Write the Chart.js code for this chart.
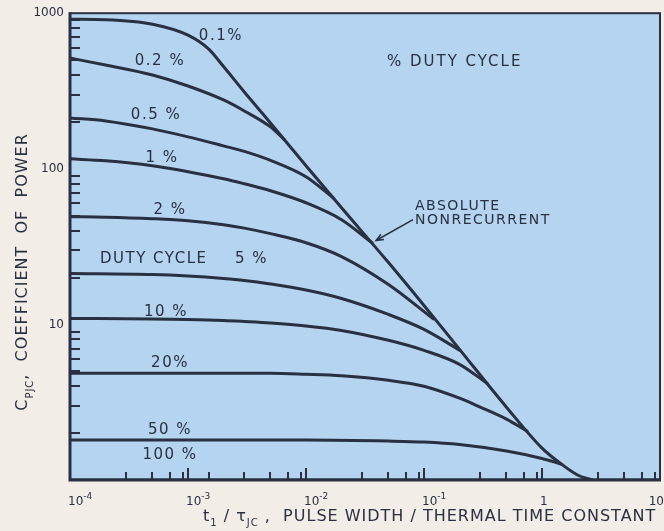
<!DOCTYPE html>
<html>
<head>
<meta charset="utf-8">
<script src="https://cdn.jsdelivr.net/npm/chart.js@4.4.1/dist/chart.umd.min.js"></script>
<style>
  html, body { margin: 0; padding: 0; background: #f2ede7; }
  #wrap { width: 664px; height: 531px; position: relative; }
</style>
</head>
<body>
<div id="wrap"><canvas id="chartCpjc"></canvas></div>
<script>
// Coefficient of power C_PJC against pulse width t1/tauJC, one curve per duty cycle
const dutyLabels = ['0.1%', '0.2 %', '0.5 %', '1 %', '2 %', '5 %', '10 %', '20%', '50 %', '100 %'];

// 0.1 % curve, which folds into the absolute nonrecurrent line
const x01 = [1e-4, 2e-4, 5e-4, 1e-3, 1.5e-3, 2e-3, 3e-3, 5e-3, 1e-2, 2e-2, 5e-2, 0.1, 0.2, 0.5, 1, 1.42, 2, 2.65];
const y01 = [915.5, 908.7, 850.2, 722.8, 587.8, 454.1, 311.6, 197.2, 104.5, 56.2, 24.97, 13.24, 6.915, 2.938, 1.604, 1.285, 1.077, 1];

const x02 = [1e-4, 2e-4, 5e-4, 1e-3, 2e-3, 3e-3, 5e-3, 6.51e-3];
const y02 = [514.6, 464.2, 400.5, 340.5, 276.9, 235.4, 185.9, 154.6];

const x05 = [1e-4, 2e-4, 5e-4, 1e-3, 2e-3, 3e-3, 5e-3, 1e-2, 1.694e-2];
const y05 = [212.3, 203.1, 180.5, 160.4, 140.4, 129.5, 113.4, 88.9, 65.2];

const x1 = [1e-4, 2e-4, 5e-4, 1e-3, 2e-3, 3e-3, 5e-3, 1e-2, 2e-2, 3.625e-2];
const y1 = [115.9, 112.5, 104.5, 95.7, 86.3, 80.1, 72.3, 60.5, 47.1, 33.5];

const x2 = [1e-4, 2e-4, 5e-4, 1e-3, 2e-3, 3e-3, 5e-3, 1e-2, 2e-2, 5e-2, 0.12];
const y2 = [49.25, 48.9, 47.8, 46.4, 43.75, 41.55, 38.3, 33.5, 27.3, 18.05, 10.85];

const x5 = [1e-4, 5e-4, 1e-3, 2e-3, 3e-3, 5e-3, 1e-2, 2e-2, 5e-2, 0.1, 0.2018];
const y5 = [21.23, 20.92, 20.46, 19.72, 19.15, 18.18, 16.64, 14.68, 11.59, 9.29, 6.81];

const x10 = [1e-4, 5e-4, 1e-3, 2e-3, 3e-3, 5e-3, 1e-2, 2e-2, 5e-2, 0.1, 0.2, 0.342];
const y10 = [10.93, 10.85, 10.77, 10.61, 10.45, 10.22, 9.78, 9.15, 7.90, 6.81, 5.54, 4.184];

const x20 = [1e-4, 1e-3, 5e-3, 1e-2, 2e-2, 5e-2, 0.1, 0.2, 0.3, 0.5, 0.746];
const y20 = [4.852, 4.852, 4.852, 4.781, 4.676, 4.375, 4.005, 3.355, 2.938, 2.46, 2.061];

const x50 = [1e-4, 1e-2, 5e-2, 0.1, 0.2, 0.5, 1, 1.477];
const y50 = [1.805, 1.805, 1.778, 1.752, 1.689, 1.534, 1.374, 1.259];

const x100 = [1e-4, 10];
const y100 = [1, 1];

// axis ticks
const xDecades = [1e-4, 1e-3, 1e-2, 1e-1, 1, 10];
const xDecadeLabels = [['10', '-4'], ['10', '-3'], ['10', '-2'], ['10', '-1'], ['1', ''], ['10', '']];
const xMinorTicks = [3e-4, 5e-4, 7e-4, 9e-4, 1.5e-3, 3e-3, 5e-3, 7e-3, 9e-3, 3e-2, 5e-2, 7e-2, 9e-2,
  0.3, 0.5, 0.7, 0.9, 3, 5, 7, 9];
const yTickValues = [10, 100, 1000];
const yMinorTicks = [2, 3, 4, 5, 6, 7, 8, 9, 20, 30, 40, 50, 60, 70, 80, 90, 200, 300, 400, 500, 600, 700, 800, 900];

// curve captions, anchored at [pulse width, coefficient]
const curveNotes = [
  ['0.1%', 1.9e-3, 712],
  ['0.2 %', 5.79e-4, 492],
  ['0.5 %', 5.36e-4, 222],
  ['1 %', 6.02e-4, 117.6],
  ['2 %', 7.04e-4, 54.6],
  ['10 %', 6.51e-4, 11.94],
  ['20%', 7.04e-4, 5.62],
  ['50 %', 7.04e-4, 2.09],
  ['100 %', 7.04e-4, 1.446]
];

const ink = '#283041';
const plotBg = '#b5d4ef';
const family = '"DejaVu Sans", sans-serif';

const seriesX = [x01, x02, x05, x1, x2, x5, x10, x20, x50, x100];
const seriesY = [y01, y02, y05, y1, y2, y5, y10, y20, y50, y100];

const datasets = seriesX.map((xs, i) => ({
  label: dutyLabels[i],
  data: xs.map((v, k) => ({ x: v, y: seriesY[i][k] })),
  borderColor: ink,
  borderWidth: 3,
  borderCapStyle: 'round',
  pointRadius: 0,
  fill: false,
  cubicInterpolationMode: 'monotone'
}));

// draws text pieces one after another; dy shifts sub/superscripts
function runsWidth(ctx, runs) {
  let w = 0;
  runs.forEach(r => { ctx.font = r.size + 'px ' + family; w += ctx.measureText(r.t).width; });
  return w;
}
function drawRuns(ctx, runs, x, y) {
  runs.forEach(r => {
    ctx.font = r.size + 'px ' + family;
    ctx.fillText(r.t, x, y + (r.dy || 0));
    x += ctx.measureText(r.t).width;
  });
}

const frameAndLabels = {
  id: 'frameAndLabels',
  beforeDraw(chart) {
    const { ctx, chartArea: a } = chart;
    ctx.save();
    ctx.fillStyle = plotBg;
    ctx.fillRect(a.left, a.top, a.right - a.left, a.bottom - a.top);
    ctx.restore();
  },
  afterDraw(chart) {
    const { ctx, chartArea: a, scales: { x, y } } = chart;
    ctx.save();
    ctx.strokeStyle = ink;
    ctx.fillStyle = ink;

    // frame: heavier on the two axes
    ctx.lineWidth = 2;
    ctx.strokeRect(a.left, a.top, a.right - a.left, a.bottom - a.top);
    ctx.lineWidth = 3;
    ctx.beginPath();
    ctx.moveTo(a.left, a.top - 1);
    ctx.lineTo(a.left, a.bottom);
    ctx.lineTo(a.right + 1, a.bottom);
    ctx.stroke();

    // inward tick marks
    ctx.lineWidth = 2;
    ctx.beginPath();
    yMinorTicks.forEach(v => {
      const py = Math.round(y.getPixelForValue(v));
      ctx.moveTo(a.left, py);
      ctx.lineTo(a.left + 10, py);
    });
    xMinorTicks.forEach(v => {
      const px = Math.round(x.getPixelForValue(v));
      ctx.moveTo(px, a.bottom);
      ctx.lineTo(px, a.bottom - 8);
    });
    xDecades.slice(1, -1).forEach(v => {
      const px = Math.round(x.getPixelForValue(v));
      ctx.moveTo(px, a.bottom);
      ctx.lineTo(px, a.bottom - 12);
    });
    ctx.stroke();

    // decade labels under the x axis
    ctx.textAlign = 'left';
    ctx.textBaseline = 'alphabetic';
    xDecades.forEach((v, i) => {
      const [base, exp] = xDecadeLabels[i];
      const runs = [{ t: base, size: 12 }];
      if (exp) runs.push({ t: exp, size: 9, dy: -6 });
      const w = runsWidth(ctx, runs);
      let px = x.getPixelForValue(v) - 2;
      if (px + w > chart.width) px = chart.width - w;
      drawRuns(ctx, runs, px, 505);
    });

    // x axis title
    ctx.letterSpacing = '1px';
    drawRuns(ctx, [
      { t: 't', size: 16 },
      { t: '1', size: 10, dy: 5 },
      { t: ' / ', size: 16 },
      { t: '\u03c4', size: 16 },
      { t: 'JC', size: 10, dy: 5 },
      { t: ' ,  PULSE WIDTH / THERMAL TIME CONSTANT', size: 16 }
    ], 203, 521);

    // y axis title, reading upwards
    const yRuns = [
      { t: 'C', size: 16 },
      { t: 'PJC', size: 10, dy: 6 },
      { t: ',  COEFFICIENT  OF  POWER', size: 16 }
    ];
    const yw = runsWidth(ctx, yRuns);
    ctx.save();
    ctx.translate(27, 272);
    ctx.rotate(-Math.PI / 2);
    drawRuns(ctx, yRuns, -yw / 2, 0);
    ctx.restore();

    // curve captions
    ctx.letterSpacing = '1.5px';
    ctx.font = '15px ' + family;
    ctx.textAlign = 'center';
    ctx.textBaseline = 'middle';
    curveNotes.forEach(([t, vx, vy]) => {
      ctx.fillText(t, x.getPixelForValue(vx), y.getPixelForValue(vy));
    });
    ctx.textAlign = 'left';
    ctx.fillText('DUTY CYCLE', x.getPixelForValue(1.795e-4), y.getPixelForValue(26.1));
    ctx.fillText('5 %', x.getPixelForValue(2.5e-3), y.getPixelForValue(26.1));
    ctx.letterSpacing = '2px';
    ctx.fillText('% DUTY CYCLE', x.getPixelForValue(0.0485), y.getPixelForValue(485));

    ctx.letterSpacing = '1.5px';
    ctx.font = '14px ' + family;
    ctx.fillText('ABSOLUTE', x.getPixelForValue(0.0839), y.getPixelForValue(57.1));
    ctx.fillText('NONRECURRENT', x.getPixelForValue(0.0839), y.getPixelForValue(46.4));

    // pointer from the caption to the absolute nonrecurrent line
    const ax0 = x.getPixelForValue(0.0807), ay0 = y.getPixelForValue(47.1);
    const ax1 = x.getPixelForValue(0.0392), ay1 = y.getPixelForValue(34.6);
    const ang = Math.atan2(ay1 - ay0, ax1 - ax0);
    ctx.lineWidth = 1.5;
    ctx.beginPath();
    ctx.moveTo(ax0, ay0);
    ctx.lineTo(ax1, ay1);
    ctx.moveTo(ax1 - 8 * Math.cos(ang - 0.4), ay1 - 8 * Math.sin(ang - 0.4));
    ctx.lineTo(ax1, ay1);
    ctx.lineTo(ax1 - 8 * Math.cos(ang + 0.4), ay1 - 8 * Math.sin(ang + 0.4));
    ctx.stroke();

    ctx.restore();
  }
};

new Chart(document.getElementById('chartCpjc'), {
  type: 'line',
  data: { datasets },
  options: {
    responsive: true,
    maintainAspectRatio: false,
    animation: false,
    layout: { padding: { top: 12, right: 4, left: 0, bottom: 0 } },
    plugins: { legend: { display: false }, tooltip: { enabled: false } },
    scales: {
      x: {
        type: 'logarithmic',
        min: 1e-4,
        max: 10,
        grid: { display: false, drawTicks: false },
        border: { display: false },
        ticks: { display: false },
        afterFit(scale) { scale.height = 51; }
      },
      y: {
        type: 'logarithmic',
        min: 1,
        max: 1000,
        grid: { display: false, drawTicks: false },
        border: { display: false },
        ticks: {
          color: ink,
          padding: 6,
          font: { family: family, size: 12 },
          callback: v => String(v)
        },
        afterBuildTicks(scale) { scale.ticks = yTickValues.map(v => ({ value: v })); },
        afterFit(scale) { scale.width = 70; }
      }
    }
  },
  plugins: [frameAndLabels]
});
</script>
</body>
</html>
